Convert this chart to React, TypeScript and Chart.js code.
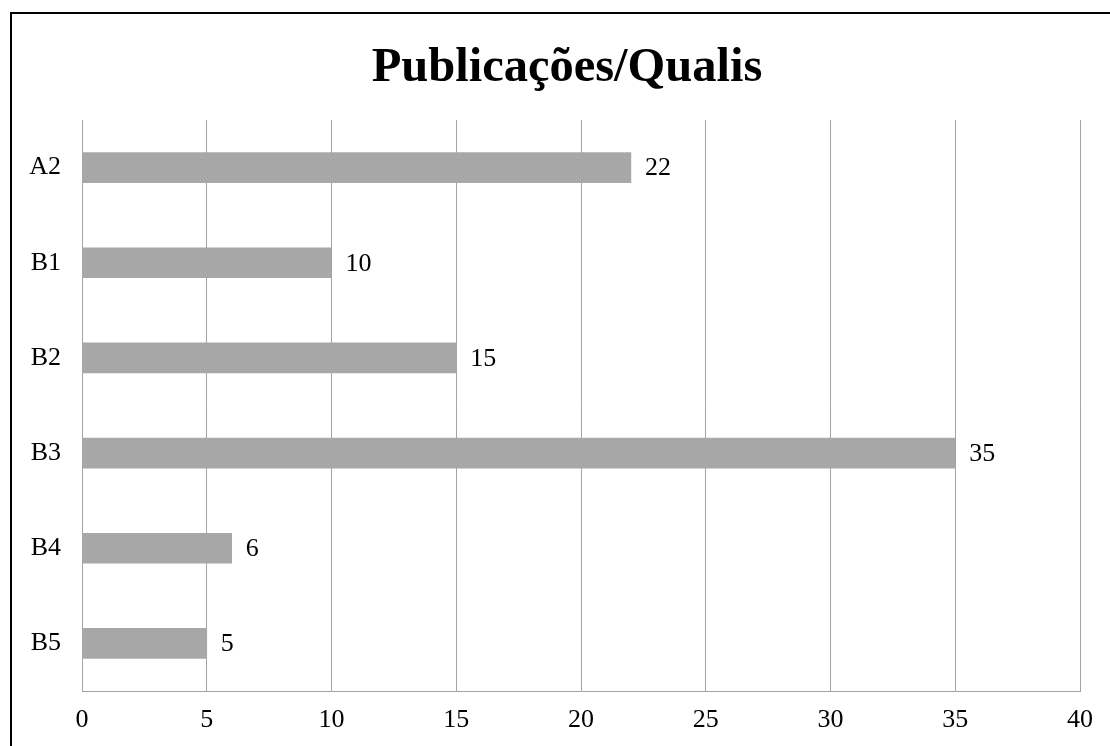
import React, { useEffect, useRef } from "react";
import { Chart, registerables } from "chart.js";

Chart.register(...registerables);

const chartTitle = "Publicações/Qualis";
const categories = ["A2", "B1", "B2", "B3", "B4", "B5"];
const publicationCounts = [22, 10, 15, 35, 6, 5];
const xMin = 0;
const xMax = 40;
const xStep = 5;

const SERIF = "'Liberation Serif', 'Times New Roman', 'DejaVu Serif', serif";

function makeBarPattern(): CanvasPattern | string {
  const c = document.createElement("canvas");
  c.width = 4;
  c.height = 4;
  const ctx = c.getContext("2d");
  if (!ctx) return "#a6a6a6";
  ctx.fillStyle = "#a7a7a7";
  ctx.fillRect(0, 0, 4, 4);
  ctx.fillStyle = "#b0b0b0";
  ctx.fillRect(0, 0, 1, 1);
  ctx.fillRect(2, 2, 1, 1);
  ctx.fillStyle = "#a0a0a0";
  ctx.fillRect(3, 1, 1, 1);
  ctx.fillRect(1, 3, 1, 1);
  const p = ctx.createPattern(c, "repeat");
  return p || "#a6a6a6";
}

const titlePlugin = {
  id: "centeredTitle",
  afterDraw(chart: any) {
    const ctx = chart.ctx;
    ctx.save();
    ctx.font = `bold 48.5px ${SERIF}`;
    ctx.fillStyle = "#000";
    ctx.textAlign = "center";
    ctx.textBaseline = "middle";
    ctx.fillText(chartTitle, 567, 68);
    ctx.restore();
  },
};

const valueLabelPlugin = {
  id: "valueLabels",
  afterDatasetsDraw(chart: any) {
    const ctx = chart.ctx;
    const meta = chart.getDatasetMeta(0);
    const data = chart.data.datasets[0].data;
    ctx.save();
    ctx.font = `26px ${SERIF}`;
    ctx.fillStyle = "#000";
    ctx.textAlign = "left";
    ctx.textBaseline = "middle";
    meta.data.forEach((el: any, i: number) => {
      ctx.fillText(String(data[i]), el.x + 14, el.y + 1);
    });
    ctx.restore();
  },
};

export default function App() {
  const canvasRef = useRef<HTMLCanvasElement | null>(null);

  useEffect(() => {
    const canvas = canvasRef.current;
    if (!canvas) return;
    const chart = new Chart(canvas, {
      type: "bar",
      data: {
        labels: categories,
        datasets: [
          {
            data: publicationCounts,
            backgroundColor: makeBarPattern() as any,
            borderWidth: 0,
            barThickness: 30,
          },
        ],
      },
      options: {
        indexAxis: "y",
        responsive: false,
        animation: false,
        devicePixelRatio: 1,
        layout: { padding: { top: 120, right: 30, bottom: 0, left: 0 } },
        plugins: {
          legend: { display: false },
          tooltip: { enabled: false },
          title: { display: false },
        },
        scales: {
          x: {
            type: "linear",
            position: "bottom",
            min: xMin,
            max: xMax,
            ticks: {
              stepSize: xStep,
              color: "#000",
              font: { family: SERIF, size: 26, lineHeight: 1.2 },
              padding: 14,
            },
            grid: { color: "#a3a3a3", lineWidth: 1, drawTicks: false },
            border: { display: true, color: "#a3a3a3", width: 1 },
            afterFit(scale: any) {
              scale.height = 55;
            },
          },
          y: {
            type: "category",
            ticks: {
              color: "#000",
              font: { family: SERIF, size: 26, lineHeight: 1.2 },
              padding: 21,
            },
            grid: { display: false, drawTicks: false },
            border: { display: true, color: "#a3a3a3", width: 1 },
            afterFit(scale: any) {
              scale.width = 82;
            },
          },
        },
      },
      plugins: [valueLabelPlugin, titlePlugin],
    });
    return () => chart.destroy();
  }, []);

  return (
    <div
      style={{
        position: "absolute",
        left: 0,
        top: 0,
        width: 1110,
        height: 746,
        overflow: "hidden",
        background: "#fff",
      }}
    >
      <canvas
        ref={canvasRef}
        width={1110}
        height={746}
        style={{ position: "absolute", left: 0, top: 0, width: 1110, height: 746 }}
      />
      <div
        style={{
          position: "absolute",
          left: 10,
          top: 12,
          width: 1140,
          height: 780,
          border: "2px solid #000",
          boxSizing: "border-box",
          pointerEvents: "none",
        }}
      />
    </div>
  );
}
